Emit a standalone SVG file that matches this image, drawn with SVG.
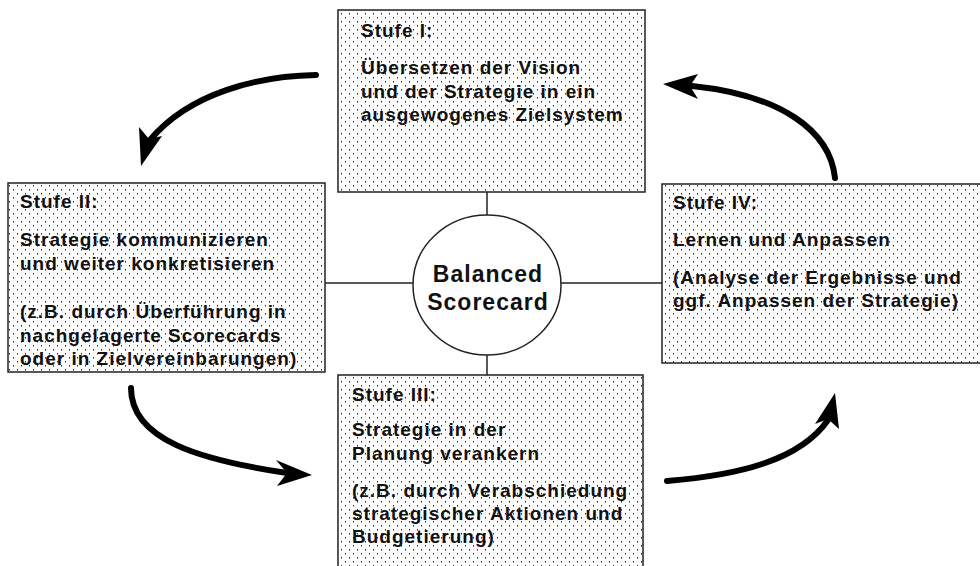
<svg xmlns="http://www.w3.org/2000/svg" width="980" height="566" viewBox="0 0 980 566">
<style>
.box{fill:url(#dots);stroke:#222;stroke-width:1.5}
.t{font-family:"Liberation Sans",Arial,sans-serif;font-weight:bold;font-size:19px;letter-spacing:1px;fill:#111}
.c{font-family:"Liberation Sans",Arial,sans-serif;font-weight:bold;font-size:23px;letter-spacing:1px;fill:#111;text-anchor:middle}
.ln{stroke:#222;stroke-width:1.5;fill:none}
.arc{stroke:#000;stroke-width:6;fill:none;stroke-linecap:round}
.hd{fill:#000}
</style>
<defs>
<pattern id="dots" patternUnits="userSpaceOnUse" width="8" height="8">
<rect width="8" height="8" fill="#fff"/>
<rect x="1" y="1" width="1" height="1.5" fill="#222"/>
<rect x="5" y="5" width="1" height="1.5" fill="#222"/>
</pattern>
</defs>
<rect width="980" height="566" fill="#fff"/>
<g id="connectors">
<line class="ln" x1="487" y1="192" x2="487" y2="215"/>
<line class="ln" x1="487" y1="355" x2="487" y2="375"/>
<line class="ln" x1="325" y1="283" x2="413" y2="283"/>
<line class="ln" x1="561" y1="283" x2="662" y2="283"/>
<path class="arc" d="M316,75 C260,76 190,92 150,140"/>
<polygon class="hd" points="141,166 139,127 149,139 162,136"/>
<path class="arc" d="M835,178 C830,130 780,95 692,86"/>
<polygon class="hd" points="663,84 698,74 690,86 698,99"/>
<path class="arc" d="M131,388 C131,440 200,460 287,473"/>
<polygon class="hd" points="312,475 276,460 287,473 277,486"/>
<path class="arc" d="M667,481 C740,475 800,460 828,420"/>
<polygon class="hd" points="835,393 815,424 828,419 839,429"/>
</g>
<g id="stufe1">
<rect class="box" x="338" y="10" width="307" height="182"/>
<text class="t" x="361" y="37">Stufe I:</text>
<text class="t" x="361" y="74">Übersetzen der Vision</text>
<text class="t" x="361" y="97.5">und der Strategie in ein</text>
<text class="t" x="361" y="121">ausgewogenes Zielsystem</text>
</g>
<g id="stufe2">
<rect class="box" x="8" y="183" width="317" height="189"/>
<text class="t" x="20" y="208">Stufe II:</text>
<text class="t" x="20" y="246">Strategie kommunizieren</text>
<text class="t" x="20" y="270">und weiter konkretisieren</text>
<text class="t" x="20" y="318">(z.B. durch Überführung in</text>
<text class="t" x="20" y="341.5">nachgelagerte Scorecards</text>
<text class="t" x="20" y="365">oder in Zielvereinbarungen)</text>
</g>
<g id="stufe3">
<rect class="box" x="338" y="375" width="305" height="210"/>
<text class="t" x="352" y="401">Stufe III:</text>
<text class="t" x="352" y="436">Strategie in der</text>
<text class="t" x="352" y="460">Planung verankern</text>
<text class="t" x="352" y="497">(z.B. durch Verabschiedung</text>
<text class="t" x="352" y="520">strategischer Aktionen und</text>
<text class="t" x="352" y="543">Budgetierung)</text>
</g>
<g id="stufe4">
<rect class="box" x="662" y="184" width="325" height="179"/>
<text class="t" x="673" y="209">Stufe IV:</text>
<text class="t" x="673" y="246">Lernen und Anpassen</text>
<text class="t" x="673" y="284">(Analyse der Ergebnisse und</text>
<text class="t" x="673" y="307">ggf. Anpassen der Strategie)</text>
</g>
<g id="bsc">
<ellipse cx="487" cy="285" rx="74" ry="70" fill="#fff" stroke="#222" stroke-width="1.5"/>
<text class="c" x="488" y="282">Balanced</text>
<text class="c" x="488" y="310">Scorecard</text>
</g>
</svg>
